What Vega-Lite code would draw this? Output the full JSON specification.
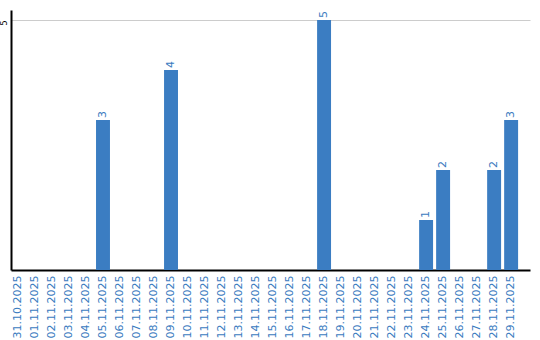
{
  "$schema": "https://vega.github.io/schema/vega-lite/v6.json",
  "width": 519,
  "height": 260,
  "autosize": "none",
  "padding": {"left": 11, "top": 10, "right": 10, "bottom": 70},
  "background": "white",
  "config": {"view": {"stroke": null}, "font": "DejaVu Sans"},
  "data": {"values": [
    {"date": "31.10.2025", "count": 0},
    {"date": "01.11.2025", "count": 0},
    {"date": "02.11.2025", "count": 0},
    {"date": "03.11.2025", "count": 0},
    {"date": "04.11.2025", "count": 0},
    {"date": "05.11.2025", "count": 3},
    {"date": "06.11.2025", "count": 0},
    {"date": "07.11.2025", "count": 0},
    {"date": "08.11.2025", "count": 0},
    {"date": "09.11.2025", "count": 4},
    {"date": "10.11.2025", "count": 0},
    {"date": "11.11.2025", "count": 0},
    {"date": "12.11.2025", "count": 0},
    {"date": "13.11.2025", "count": 0},
    {"date": "14.11.2025", "count": 0},
    {"date": "15.11.2025", "count": 0},
    {"date": "16.11.2025", "count": 0},
    {"date": "17.11.2025", "count": 0},
    {"date": "18.11.2025", "count": 5},
    {"date": "19.11.2025", "count": 0},
    {"date": "20.11.2025", "count": 0},
    {"date": "21.11.2025", "count": 0},
    {"date": "22.11.2025", "count": 0},
    {"date": "23.11.2025", "count": 0},
    {"date": "24.11.2025", "count": 1},
    {"date": "25.11.2025", "count": 2},
    {"date": "26.11.2025", "count": 0},
    {"date": "27.11.2025", "count": 0},
    {"date": "28.11.2025", "count": 2},
    {"date": "29.11.2025", "count": 3}
  ]},
  "encoding": {
    "x": {
      "field": "date", "type": "nominal", "sort": null,
      "scale": {"paddingInner": 0.18, "paddingOuter": 0.35, "align": 0},
      "axis": {
        "title": null, "labelAngle": -90, "labelFontSize": 11, "labelColor": "#3a7bc0",
        "ticks": false, "labelPadding": 5, "domainColor": "#000000", "domainWidth": 2,
        "grid": false
      }
    },
    "y": {
      "field": "count", "type": "quantitative",
      "scale": {"domain": [0, 5.2], "nice": false},
      "axis": {
        "title": null, "values": [5], "labelAngle": -90, "labelAlign": "right",
        "labelBaseline": "middle", "labelFontSize": 8, "labelColor": "#000000",
        "ticks": false, "labelPadding": 7, "domainColor": "#000000", "domainWidth": 2,
        "grid": true, "gridColor": "#cccccc", "gridWidth": 1
      }
    }
  },
  "layer": [
    {"mark": {"type": "bar", "color": "#3b7dc2"}},
    {
      "transform": [{"filter": "datum.count > 0"}],
      "mark": {"type": "text", "angle": -90, "align": "left", "baseline": "middle", "dx": 2, "fontSize": 11, "color": "#3a7bc0"},
      "encoding": {"text": {"field": "count", "type": "quantitative"}}
    }
  ]
}
